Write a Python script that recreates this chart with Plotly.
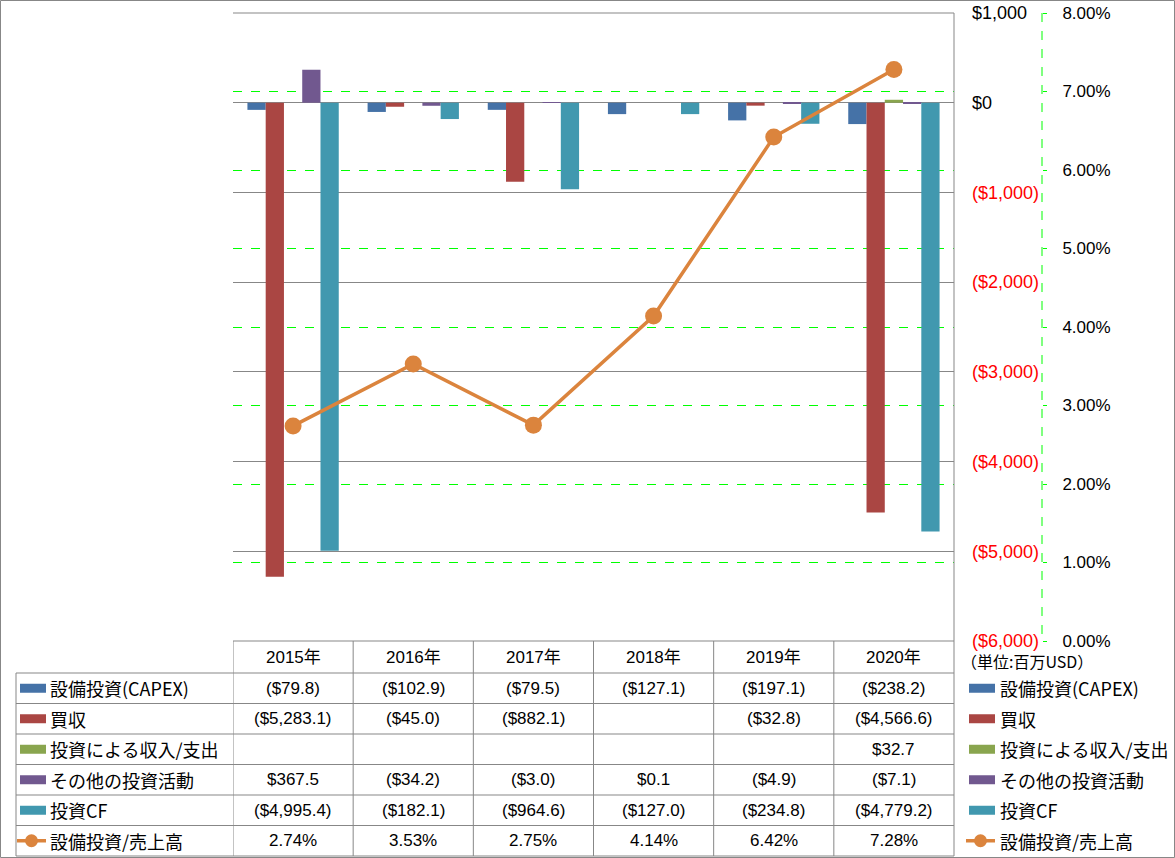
import plotly.graph_objects as go

# ---------------- data ----------------
years = ["2015年", "2016年", "2017年", "2018年", "2019年", "2020年"]
capex = [-79.8, -102.9, -79.5, -127.1, -197.1, -238.2]
acquisition = [-5283.1, -45.0, -882.1, None, -32.8, -4566.6]
invest_income = [None, None, None, None, None, 32.7]
other_invest = [367.5, -34.2, -3.0, 0.1, -4.9, -7.1]
invest_cf = [-4995.4, -182.1, -964.6, -127.0, -234.8, -4779.2]
capex_to_sales = [2.74, 3.53, 2.75, 4.14, 6.42, 7.28]  # percent

bar_names = ["設備投資(CAPEX)", "買収", "投資による収入/支出", "その他の投資活動", "投資CF"]
line_name = "設備投資/売上高"
unit_label = "（単位:百万USD）"

money_ticks = [1000, 0, -1000, -2000, -3000, -4000, -5000, -6000]
pct_ticks = [0, 1, 2, 3, 4, 5, 6, 7, 8]

# ---------------- style ----------------
bar_colors = ["#4572A7", "#AA4643", "#89A54E", "#71588F", "#4198AF"]
line_color = "#DB843D"
grid_gray = "#878787"
green = "#00FF00"
W, H = 1175, 858
NUM_FONT = "Liberation Sans, Noto Sans CJK JP, sans-serif"
JP_FONT = "Noto Sans CJK JP, sans-serif"


def px(x):
    return x / W


def py(y):
    return (H - y) / H


def fmt_money(v, dec=1):
    if v is None:
        return ""
    if v < 0:
        return "(${:,.{d}f})".format(abs(v), d=dec)
    return "${:,.{d}f}".format(v, d=dec)


bar_series = [capex, acquisition, invest_income, other_invest, invest_cf]

fig = go.Figure()
for name, vals, col in zip(bar_names, bar_series, bar_colors):
    fig.add_trace(go.Bar(x=years, y=vals, name=name, marker=dict(color=col, line=dict(width=0)),
                         showlegend=False, hoverinfo="skip"))

fig.add_trace(go.Scatter(x=years, y=capex_to_sales, name=line_name, yaxis="y2", mode="lines+markers",
                         line=dict(color=line_color, width=3.5),
                         marker=dict(color=line_color, size=17, line=dict(width=0)),
                         showlegend=False, hoverinfo="skip"))

money_text = []
for v in money_ticks:
    t = fmt_money(v, 0)
    if v < 0:
        t = "<span style='color:#FF0000'>" + t + "</span>"
    money_text.append(t)

# ---------------- table geometry ----------------
header_top, header_bot = 641, 673
row_h = 30.5
n_rows = 6
row_lines = [header_bot + i * row_h for i in range(n_rows + 1)]
row_centers = [header_bot + (i + 0.5) * row_h for i in range(n_rows)]
plot_top = 13
left_x = 16
plot_right = 954
sec_axis_x = 1042

shapes = []
line_style = dict(color=grid_gray, width=1)
# outer border
shapes.append(dict(type="rect", xref="paper", yref="paper", x0=px(0.5), x1=px(W - 0.5),
                   y0=py(H - 0.5), y1=py(0.5), line=line_style, layer="above"))
# plot top border
shapes.append(dict(type="line", xref="x", yref="paper", x0=-0.5, x1=len(years) - 0.5,
                   y0=py(plot_top), y1=py(plot_top), line=line_style))
# plot right border continuing down the table
shapes.append(dict(type="line", xref="paper", yref="paper", x0=px(plot_right), x1=px(plot_right),
                   y0=py(plot_top), y1=py(row_lines[-1]), line=line_style))
# secondary axis dashed line
shapes.append(dict(type="line", xref="paper", yref="paper", x0=px(sec_axis_x), x1=px(sec_axis_x),
                   y0=py(plot_top), y1=py(header_top), line=dict(color=green, width=1, dash="dash")))
# header top line
shapes.append(dict(type="line", xref="x", yref="paper", x0=-0.5, x1=len(years) - 0.5,
                   y0=py(header_top), y1=py(header_top), line=line_style))
# horizontal row lines
for yl in row_lines:
    shapes.append(dict(type="line", xref="paper", yref="paper", x0=px(left_x), x1=px(plot_right),
                       y0=py(yl), y1=py(yl), line=line_style))
# left border of label column
shapes.append(dict(type="line", xref="paper", yref="paper", x0=px(left_x), x1=px(left_x),
                   y0=py(header_bot), y1=py(row_lines[-1]), line=line_style))
# category column boundaries
for i in range(len(years)):
    xb = i - 0.5
    shapes.append(dict(type="line", xref="x", yref="paper", x0=xb, x1=xb,
                       y0=py(header_top), y1=py(row_lines[-1]), line=line_style))

annotations = []
# year headers
for yr in years:
    annotations.append(dict(x=yr, xref="x", y=py((header_top + header_bot) / 2), yref="paper",
                            text=yr, showarrow=False, xanchor="center", yanchor="middle",
                            font=dict(family=NUM_FONT, size=17, color="#000000")))

all_names = bar_names + [line_name]
for r, (name, vals) in enumerate(zip(bar_names, bar_series)):
    for yr, v in zip(years, vals):
        if v is None:
            continue
        annotations.append(dict(x=yr, xref="x", y=py(row_centers[r]), yref="paper",
                                text=fmt_money(v), showarrow=False, xanchor="center", yanchor="middle",
                                font=dict(family=NUM_FONT, size=17, color="#000000")))
for yr, v in zip(years, capex_to_sales):
    annotations.append(dict(x=yr, xref="x", y=py(row_centers[5]), yref="paper",
                            text="{:.2f}%".format(v), showarrow=False, xanchor="center", yanchor="middle",
                            font=dict(family=NUM_FONT, size=17, color="#000000")))

# legend keys (left inside table and right side)
for key_x, text_x in [(20, 48), (969, 998)]:
    for r, name in enumerate(all_names):
        yc = row_centers[r]
        if r < 5:
            shapes.append(dict(type="rect", xref="paper", yref="paper", x0=px(key_x), x1=px(key_x + 26),
                               y0=py(yc + 4.5), y1=py(yc - 4.5), fillcolor=bar_colors[r],
                               line=dict(width=0)))
        else:
            shapes.append(dict(type="line", xref="paper", yref="paper", x0=px(key_x - 3), x1=px(key_x + 26),
                               y0=py(yc), y1=py(yc), line=dict(color=line_color, width=3.5)))
            shapes.append(dict(type="circle", xref="paper", yref="paper",
                               x0=px(key_x + 11.5 - 6.5), x1=px(key_x + 11.5 + 6.5),
                               y0=py(yc + 6.5), y1=py(yc - 6.5), fillcolor=line_color,
                               line=dict(width=0)))
        annotations.append(dict(x=px(text_x), xref="paper", y=py(yc), yref="paper", text=name,
                                showarrow=False, xanchor="left", yanchor="middle",
                                font=dict(family=JP_FONT, size=18, color="#000000")))

annotations.append(dict(x=px(959), xref="paper", y=py(661), yref="paper", text=unit_label,
                        showarrow=False, xanchor="left", yanchor="middle",
                        font=dict(family=JP_FONT, size=16, color="#000000")))

fig.update_layout(
    width=W, height=H,
    margin=dict(l=0, r=0, t=0, b=0, pad=0),
    paper_bgcolor="white", plot_bgcolor="white",
    barmode="group", bargap=0.24, bargroupgap=0,
    showlegend=False,
    xaxis=dict(domain=[px(233), px(plot_right)], type="category", range=[-0.5, len(years) - 0.5],
               showticklabels=False, showgrid=False, showline=False, zeroline=False, ticks="",
               automargin=False),
    yaxis=dict(domain=[py(header_top), py(plot_top)], range=[-6000, 1000], side="right",
               tickvals=money_ticks, ticktext=money_text, showgrid=True, gridcolor=grid_gray,
               gridwidth=1, zeroline=False, showline=False, ticks="", ticklabelstandoff=17,
               automargin=False,
               tickfont=dict(family=NUM_FONT, size=18, color="#000000")),
    yaxis2=dict(overlaying="y", side="right", anchor="free", position=px(sec_axis_x),
                range=[0, 8], tickvals=pct_ticks, ticktext=["{:.2f}%".format(v) for v in pct_ticks],
                showgrid=True, gridcolor=green, griddash="dash", gridwidth=1, zeroline=False,
                showline=False, ticks="outside", ticklen=4, tickcolor=green, tickwidth=1,
                ticklabelstandoff=12, automargin=False,
                tickfont=dict(family=NUM_FONT, size=17, color="#000000")),
    shapes=shapes,
    annotations=annotations,
)

fig.write_html("out.html",
               post_script="document.documentElement.style.margin='0';document.body.style.margin='0';"
                           "document.body.style.overflow='hidden';")
